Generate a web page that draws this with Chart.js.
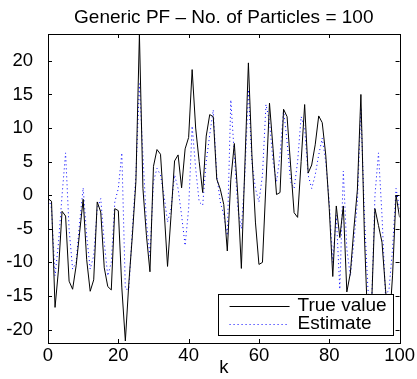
<!DOCTYPE html>
<html><head><meta charset="utf-8">
<script src="https://cdn.jsdelivr.net/npm/chart.js@4.4.1/dist/chart.umd.min.js"></script>
<style>html,body{margin:0;padding:0;background:#fff}#wrap{width:417px;height:379px;position:relative}</style>
</head><body><div id="wrap"><canvas id="c" width="417" height="379"></canvas></div>
<script>
const titleText = 'Generic PF \u2013 No. of Particles = 100';
const xLabel = 'k';
const seriesNames = ['True value', 'Estimate'];
const xTicks = [0, 20, 40, 60, 80, 100];
const yTicks = [-20, -15, -10, -5, 0, 5, 10, 15, 20];
const trueValue = [
  -0.5, -0.9, -16.7, -11, -2.4, -3.1, -12.8, -14, -10.5, -5.5,
  -0.6, -9.6, -14.3, -12.6, -1, -2.5, -10.8, -13.6, -14.1, -2,
  -2.3, -13.8, -21.7, -13, -6, 2, 24, 1, -6, -11.4,
  4.3, 6.8, 6.1, -2, -10.6, -3, 5.1, 6, 1.1, 6.9,
  8.6, 18.7, 10, 5, 0.4, 8.8, 12, 11.7, 2.4, 0.9,
  -1.4, -8.3, 2.3, 7.7, -0.1, -10.9, 4.5, 19.7, 6, -4,
  -10.3, -10, 1.8, 13.7, 7, 0.1, 0.4, 12.8, 11.7, 4.5,
  -2.6, -3.3, 5, 13.5, 3.3, 4.5, 7.5, 11.8, 10.8, 6,
  -2, -12.1, -1.6, -6.3, -1.6, -14.4, -11.6, -5, 0.8, 15,
  -6, -20, -17, -2, -4.5, -7, -14, -20, -12, 0,
  -3.3
];
const estimate = [
  0, -2, -12, -7, 0, 6.3, -5, -11, -10, -4,
  1.1, -6, -11, -9, -2, -0.5, -7, -12, -10, -1,
  1, 6.3, -14, -14, -5, 3, 16.6, 6, -4, -9,
  2, 4, 3, 0, -4, -2, 3, 1, -3, -7.5,
  -2, 10.3, 4, -1, -1.5, 5, 9, 12.7, 3, -1,
  -3, -6, 14.2, 6, -2, -5, 3, 15.7, 5, 1,
  -1, 3, 13.5, 11, 5, 2, 6, 12.7, 8, 2,
  1, 5, 11.7, 10, 3, 1, 3, 6, 8.5, 5,
  -1, -10, -3, -14, 3.6, -8, -12, -7, -1, 13,
  -3, -14, -17, 0, 6.3, -3, -15, -14, -8, 1,
  -2
];

const FONT = "'Liberation Sans', Arial, Helvetica, sans-serif";

const frame = {
  id: 'frame',
  afterDatasetsDraw(chart) {
    const {ctx, chartArea: a, scales: {x, y}} = chart;
    ctx.save();
    ctx.strokeStyle = '#000';
    ctx.lineWidth = 1;
    const L = 4;
    ctx.beginPath();
    xTicks.forEach(v => {
      const px = Math.round(x.getPixelForValue(v)) + 0.5;
      ctx.moveTo(px, a.bottom); ctx.lineTo(px, a.bottom - L);
      ctx.moveTo(px, a.top); ctx.lineTo(px, a.top + L);
    });
    yTicks.forEach(v => {
      const py = Math.round(y.getPixelForValue(v)) + 0.5;
      ctx.moveTo(a.left, py); ctx.lineTo(a.left + L, py);
      ctx.moveTo(a.right, py); ctx.lineTo(a.right - L, py);
    });
    ctx.stroke();
    ctx.strokeRect(Math.round(a.left) + 0.5, Math.round(a.top) + 0.5,
      Math.round(a.right - a.left), Math.round(a.bottom - a.top));
    ctx.restore();
  },
  afterDraw(chart) {
    const {ctx, chartArea: a} = chart;
    const ds = chart.data.datasets;
    const bx = a.right - 182, by = a.bottom - 49, bw = 175, bh = 41;
    ctx.save();
    ctx.fillStyle = '#fff';
    ctx.fillRect(bx, by, bw, bh);
    ctx.strokeStyle = '#000';
    ctx.lineWidth = 1;
    ctx.strokeRect(Math.round(bx) + 0.5, Math.round(by) + 0.5, bw, bh);
    ctx.font = '19px ' + FONT;
    ctx.textBaseline = 'middle';
    ctx.fillStyle = '#000';
    ds.forEach((d, i) => {
      const cy = by + 11.5 + i * 18.5;
      ctx.save();
      ctx.strokeStyle = d.borderColor;
      ctx.lineWidth = d.borderWidth;
      ctx.setLineDash(d.borderDash || []);
      ctx.beginPath();
      ctx.moveTo(bx + 12, Math.round(cy) + 0.5);
      ctx.lineTo(bx + 72, Math.round(cy) + 0.5);
      ctx.stroke();
      ctx.restore();
      ctx.fillText(d.label, bx + 80, cy);
    });
    ctx.restore();
  }
};

new Chart(document.getElementById('c'), {
  type: 'line',
  data: {
    datasets: [
      {label: seriesNames[0], data: trueValue.map((v, i) => ({x: i, y: v})),
       borderColor: '#000', borderWidth: 1, pointRadius: 0, tension: 0, fill: false},
      {label: seriesNames[1], data: estimate.map((v, i) => ({x: i, y: v})),
       borderColor: '#0000ff', borderWidth: 1, borderDash: [1, 3], pointRadius: 0, tension: 0, fill: false}
    ]
  },
  options: {
    responsive: false,
    animation: false,
    layout: {padding: {left: 0, right: 17, top: 0, bottom: 0}},
    plugins: {
      legend: {display: false},
      tooltip: {enabled: false},
      title: {display: true, text: titleText, color: '#000', fullSize: false, align: 'center',
        font: {family: FONT, size: 19, weight: 'normal'}, padding: {top: 6, bottom: 5.2}}
    },
    scales: {
      x: {
        type: 'linear', min: 0, max: 100,
        grid: {display: false, drawTicks: false}, border: {display: false},
        ticks: {color: '#000', font: {family: FONT, size: 18.5}, padding: 2, maxRotation: 0, autoSkip: false},
        afterBuildTicks: s => { s.ticks = xTicks.map(v => ({value: v})); },
        afterFit: s => { s.height = 36; },
        title: {display: true, text: xLabel, color: '#000', font: {family: FONT, size: 18.5}, padding: 0}
      },
      y: {
        type: 'linear', min: -22, max: 24,
        grid: {display: false, drawTicks: false}, border: {display: false},
        ticks: {color: '#000', font: {family: FONT, size: 18.5}, padding: 15, autoSkip: false},
        afterBuildTicks: s => { s.ticks = yTicks.map(v => ({value: v})); },
        afterFit: s => { s.width = 48; }
      }
    }
  },
  plugins: [frame]
});
</script>
</body></html>
